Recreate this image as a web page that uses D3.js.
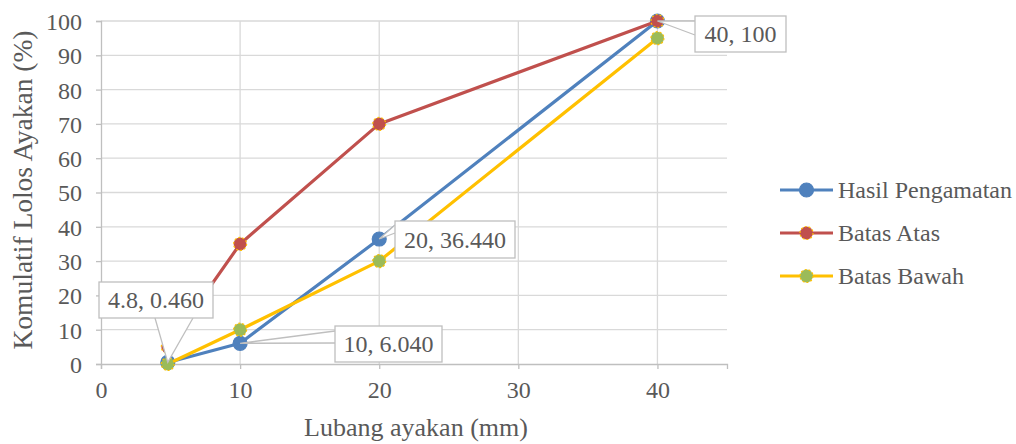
<!DOCTYPE html>
<html>
<head>
<meta charset="utf-8">
<script src="https://cdn.jsdelivr.net/npm/d3@7"></script>
</head>
<body style="margin:0">
<div id="chart"></div>
<script>
var sieve = [4.8, 10, 20, 40];
var hasil = [0.46, 6.04, 36.44, 100];
var atas = [5, 35, 70, 100];
var bawah = [0, 10, 30, 95];
var xTicks = [0, 10, 20, 30, 40];
var yTicks = [0, 10, 20, 30, 40, 50, 60, 70, 80, 90, 100];
var labelText = ["4.8, 0.460", "10, 6.040", "20, 36.440", "40, 100"];

var width = 1016, height = 444;
var FONT = "Liberation Serif";
var INK = "#595959";

var svg = d3.select("#chart").append("svg")
    .attr("width", width)
    .attr("height", height)
    .attr("font-family", FONT);

var x = d3.scaleLinear().domain([0, 45]).range([101, 727]);
var y = d3.scaleLinear().domain([0, 100]).range([364, 21]);

function label(sel, size) {
  return sel.style("font-family", FONT).style("font-size", size + "px").attr("fill", INK);
}

// gridlines
svg.append("g").selectAll("line")
    .data(yTicks.slice(1))
  .enter().append("line")
    .attr("x1", x(0)).attr("x2", x(45))
    .attr("y1", function(d) { return y(d); })
    .attr("y2", function(d) { return y(d); })
    .attr("stroke", "#d9d9d9").attr("stroke-width", 1.3);

svg.append("g").selectAll("line")
    .data(xTicks.slice(1))
  .enter().append("line")
    .attr("x1", function(d) { return x(d); })
    .attr("x2", function(d) { return x(d); })
    .attr("y1", y(0)).attr("y2", y(100))
    .attr("stroke", "#d9d9d9").attr("stroke-width", 1.3);

// axes
var xAxis = svg.append("g")
    .attr("transform", "translate(0," + y(0) + ")")
    .call(d3.axisBottom(x).tickValues(xTicks).tickSize(5).tickPadding(12));
var yAxis = svg.append("g")
    .attr("transform", "translate(" + x(0) + ",0)")
    .call(d3.axisLeft(y).tickValues(yTicks).tickSize(5).tickPadding(14));

[xAxis, yAxis].forEach(function(a) {
  a.attr("font-family", FONT).attr("font-size", 24);
  a.select(".domain").attr("stroke", "#bfbfbf").attr("stroke-width", 1.3);
  a.selectAll(".tick line").attr("stroke", "#bfbfbf").attr("stroke-width", 1.3);
  label(a.selectAll(".tick text"), 24);
});
yAxis.selectAll(".tick text").attr("dy", "0.35em");

// axis titles
label(svg.append("text"), 26)
    .attr("x", 416).attr("y", 436)
    .attr("text-anchor", "middle")
    .text("Lubang ayakan (mm)");

label(svg.append("text"), 27.5)
    .attr("transform", "translate(32,190) rotate(-90)")
    .attr("text-anchor", "middle")
    .text("Komulatif Lolos Ayakan (%)");

var series = [
  {name: "Hasil Pengamatan", values: hasil, color: "#4f81bd", fill: "#4f81bd", stroke: "#4f81bd", r: 7, dash: null},
  {name: "Batas Atas", values: atas, color: "#c0504d", fill: "#c0504d", stroke: "#ffc000", r: 6.5, dash: "2,2"},
  {name: "Batas Bawah", values: bawah, color: "#ffc000", fill: "#9bbb59", stroke: "#ffc000", r: 6.5, dash: "2,2"}
];

var line = d3.line()
    .x(function(d) { return x(d[0]); })
    .y(function(d) { return y(d[1]); });

series.forEach(function(s) {
  var pts = sieve.map(function(v, i) { return [v, s.values[i]]; });
  svg.append("path")
      .datum(pts)
      .attr("d", line)
      .attr("fill", "none")
      .attr("stroke", s.color)
      .attr("stroke-width", 3.2)
      .attr("stroke-linejoin", "round");
  svg.append("g").selectAll("circle")
      .data(pts)
    .enter().append("circle")
      .attr("cx", function(d) { return x(d[0]); })
      .attr("cy", function(d) { return y(d[1]); })
      .attr("r", s.r)
      .attr("fill", s.fill)
      .attr("stroke", s.stroke)
      .attr("stroke-width", 1.2)
      .attr("stroke-dasharray", s.dash);
});

// data callouts for Hasil Pengamatan
var callouts = [
  {bx: 99, by: 282, bw: 114, bh: 36, a: [155, 318], b: [193, 318]},
  {bx: 335, by: 326, bw: 107, bh: 36, a: [335, 331], b: [335, 343]},
  {bx: 395, by: 221, bw: 120, bh: 37, a: [395, 225], b: [395, 233]},
  {bx: 695, by: 16, bw: 91, bh: 36, a: [695, 21], b: [695, 35]}
];

callouts.forEach(function(c, i) {
  var px = x(sieve[i]), py = y(hasil[i]);
  var g = svg.append("g");
  g.append("path")
      .attr("d", "M" + c.a[0] + "," + c.a[1] + "L" + px + "," + py + "L" + c.b[0] + "," + c.b[1])
      .attr("fill", "#fff")
      .attr("stroke", "#bfbfbf")
      .attr("stroke-width", 1.3);
  g.append("rect")
      .attr("x", c.bx).attr("y", c.by)
      .attr("width", c.bw).attr("height", c.bh)
      .attr("fill", "#fff")
      .attr("stroke", "#bfbfbf")
      .attr("stroke-width", 1.3);
  label(g.append("text"), 24)
      .attr("x", c.bx + c.bw / 2)
      .attr("y", c.by + c.bh / 2)
      .attr("dy", "0.35em")
      .attr("text-anchor", "middle")
      .text(labelText[i]);
});

// legend
var legend = svg.append("g").selectAll("g")
    .data(series)
  .enter().append("g")
    .attr("transform", function(d, i) { return "translate(780," + (190 + i * 43) + ")"; });

legend.append("line")
    .attr("x1", 0).attr("x2", 53)
    .attr("stroke", function(d) { return d.color; })
    .attr("stroke-width", 3.2);
legend.append("circle")
    .attr("cx", 26.5)
    .attr("r", function(d) { return d.r; })
    .attr("fill", function(d) { return d.fill; })
    .attr("stroke", function(d) { return d.stroke; })
    .attr("stroke-width", 1.2)
    .attr("stroke-dasharray", function(d) { return d.dash; });
label(legend.append("text"), 24)
    .attr("x", 58)
    .attr("dy", "0.35em")
    .text(function(d) { return d.name; });
</script>
</body>
</html>
